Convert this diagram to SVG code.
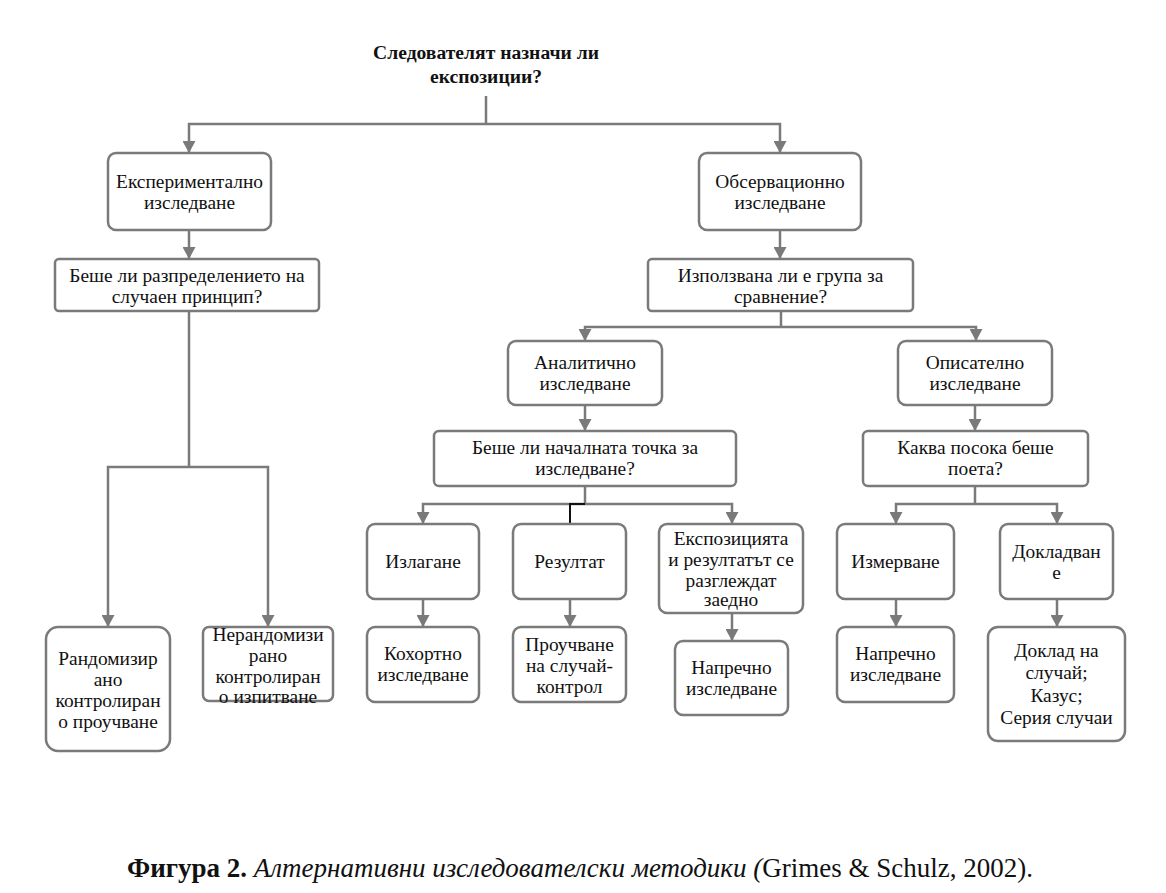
<svg xmlns="http://www.w3.org/2000/svg" width="1166" height="893" viewBox="0 0 1166 893">
<style>
.box{fill:#fff;stroke:#7a7a7a;stroke-width:2.5}
.t{font-family:"Liberation Serif","Times New Roman",serif;font-size:19.4px;fill:#111;text-anchor:middle}
.title{font-family:"Liberation Serif","Times New Roman",serif;font-size:19.6px;font-weight:bold;fill:#111;text-anchor:middle}
.c{fill:none;stroke:#7a7a7a;stroke-width:2.5}
.a{marker-end:url(#ah)}
.cap{font-family:"Liberation Serif","Times New Roman",serif;font-size:27px;fill:#111}
</style>
<defs>
<marker id="ah" viewBox="0 0 12 13" refX="12" refY="6.5" markerWidth="12" markerHeight="13" markerUnits="userSpaceOnUse" orient="auto">
<path d="M0,0 L12,6.5 L0,13 z" fill="#7a7a7a"/>
</marker>
</defs>
<rect width="1166" height="893" fill="#fff"/>
<g id="connectors">
<path class="c" d="M486,96 V124"/>
<path class="c a" d="M486,124 H189 V153"/>
<path class="c a" d="M486,124 H780 V153"/>
<path class="c a" d="M189,230 V259"/>
<path class="c a" d="M780,230 V259"/>
<path class="c" d="M189,311 V467"/>
<path class="c a" d="M189,467 H108 V627"/>
<path class="c a" d="M189,467 H268 V627"/>
<path class="c" d="M781,311 V327"/>
<path class="c a" d="M781,327 H585 V341"/>
<path class="c a" d="M781,327 H976 V341"/>
<path class="c a" d="M585,405 V431"/>
<path class="c a" d="M975,405 V431"/>
<path class="c" d="M585,486 V504"/>
<path class="c a" d="M585,504 H423 V524"/>
<path class="c a" d="M585,504 H732 V524"/>
<path fill="none" stroke="#111" stroke-width="2" d="M585,504 H570 V524"/>
<path class="c" d="M975,486 V504"/>
<path class="c a" d="M975,504 H896 V524"/>
<path class="c a" d="M975,504 H1057 V524"/>
<path class="c a" d="M423,599 V627"/>
<path class="c a" d="M570,599 V627"/>
<path class="c a" d="M732,613 V641"/>
<path class="c a" d="M896,599 V627"/>
<path class="c a" d="M1057,599 V627"/>
</g>
<g id="root">
<text class="title" x="486" y="59">Следователят назначи ли</text>
<text class="title" x="486" y="83">експозиции?</text>
</g>
<g id="exp">
<rect class="box" x="108" y="153" width="163" height="77" rx="8"/>
<text class="t" x="189.5" y="188">Експериментално</text>
<text class="t" x="189.5" y="209">изследване</text>
</g>
<g id="obs">
<rect class="box" x="699" y="153" width="162" height="77" rx="8"/>
<text class="t" x="780" y="188">Обсервационно</text>
<text class="t" x="780" y="209">изследване</text>
</g>
<g id="q1">
<rect class="box" x="55" y="259" width="264" height="52" rx="4"/>
<text class="t" x="187" y="282">Беше ли разпределението на</text>
<text class="t" x="187" y="303">случаен принцип?</text>
</g>
<g id="q2">
<rect class="box" x="648" y="259" width="265" height="52" rx="4"/>
<text class="t" x="780.5" y="282">Използвана ли е група за</text>
<text class="t" x="780.5" y="303">сравнение?</text>
</g>
<g id="rand">
<rect class="box" x="46" y="627" width="124" height="124" rx="12"/>
<text class="t" x="108" y="665">Рандомизир</text>
<text class="t" x="108" y="686">ано</text>
<text class="t" x="108" y="707">контролиран</text>
<text class="t" x="108" y="728">о проучване</text>
</g>
<g id="nonrand">
<rect class="box" x="203" y="627" width="130" height="74" rx="6"/>
<text class="t" x="268" y="641">Нерандомизи</text>
<text class="t" x="268" y="662">рано</text>
<text class="t" x="268" y="683">контролиран</text>
<text class="t" x="268" y="703">о изпитване</text>
</g>
<g id="anal">
<rect class="box" x="508" y="341" width="154" height="64" rx="8"/>
<text class="t" x="585" y="369">Аналитично</text>
<text class="t" x="585" y="390">изследване</text>
</g>
<g id="desc">
<rect class="box" x="898" y="341" width="154" height="64" rx="8"/>
<text class="t" x="975" y="369">Описателно</text>
<text class="t" x="975" y="390">изследване</text>
</g>
<g id="q3">
<rect class="box" x="434" y="431" width="302" height="55" rx="5"/>
<text class="t" x="585" y="454">Беше ли началната точка за</text>
<text class="t" x="585" y="475">изследване?</text>
</g>
<g id="q4">
<rect class="box" x="863" y="431" width="225" height="55" rx="5"/>
<text class="t" x="975.5" y="454">Каква посока беше</text>
<text class="t" x="975.5" y="475">поета?</text>
</g>
<g id="exposure">
<rect class="box" x="367" y="524" width="112" height="75" rx="8"/>
<text class="t" x="423" y="568">Излагане</text>
</g>
<g id="result">
<rect class="box" x="513" y="524" width="113" height="75" rx="8"/>
<text class="t" x="569.5" y="568">Резултат</text>
</g>
<g id="both">
<rect class="box" x="659" y="524" width="144" height="89" rx="8"/>
<text class="t" x="731" y="545">Експозицията</text>
<text class="t" x="731" y="566">и резултатът се</text>
<text class="t" x="731" y="587">разглеждат</text>
<text class="t" x="731" y="606">заедно</text>
</g>
<g id="cohort">
<rect class="box" x="367" y="627" width="112" height="75" rx="8"/>
<text class="t" x="423" y="660">Кохортно</text>
<text class="t" x="423" y="681">изследване</text>
</g>
<g id="casecontrol">
<rect class="box" x="513" y="627" width="113" height="75" rx="8"/>
<text class="t" x="569.5" y="651">Проучване</text>
<text class="t" x="569.5" y="672">на случай-</text>
<text class="t" x="569.5" y="693">контрол</text>
</g>
<g id="cross1">
<rect class="box" x="675" y="641" width="113" height="74" rx="8"/>
<text class="t" x="731.5" y="674">Напречно</text>
<text class="t" x="731.5" y="695">изследване</text>
</g>
<g id="measure">
<rect class="box" x="837" y="524" width="117" height="75" rx="8"/>
<text class="t" x="895.5" y="568">Измерване</text>
</g>
<g id="report">
<rect class="box" x="1000" y="524" width="113" height="75" rx="8"/>
<text class="t" x="1056.5" y="558">Докладван</text>
<text class="t" x="1056.5" y="579">е</text>
</g>
<g id="cross2">
<rect class="box" x="837" y="627" width="117" height="75" rx="8"/>
<text class="t" x="895.5" y="660">Напречно</text>
<text class="t" x="895.5" y="681">изследване</text>
</g>
<g id="caserep">
<rect class="box" x="988" y="627" width="137" height="114" rx="10"/>
<text class="t" x="1056.5" y="657">Доклад на</text>
<text class="t" x="1056.5" y="679">случай;</text>
<text class="t" x="1056.5" y="702">Казус;</text>
<text class="t" x="1056.5" y="724">Серия случаи</text>
</g>
<g id="caption">
<text class="cap" x="127" y="877"><tspan font-weight="bold">Фигура 2.</tspan> <tspan font-style="italic">Алтернативни изследователски методики (</tspan>Grimes &amp; Schulz, 2002).</text>
</g>
</svg>
